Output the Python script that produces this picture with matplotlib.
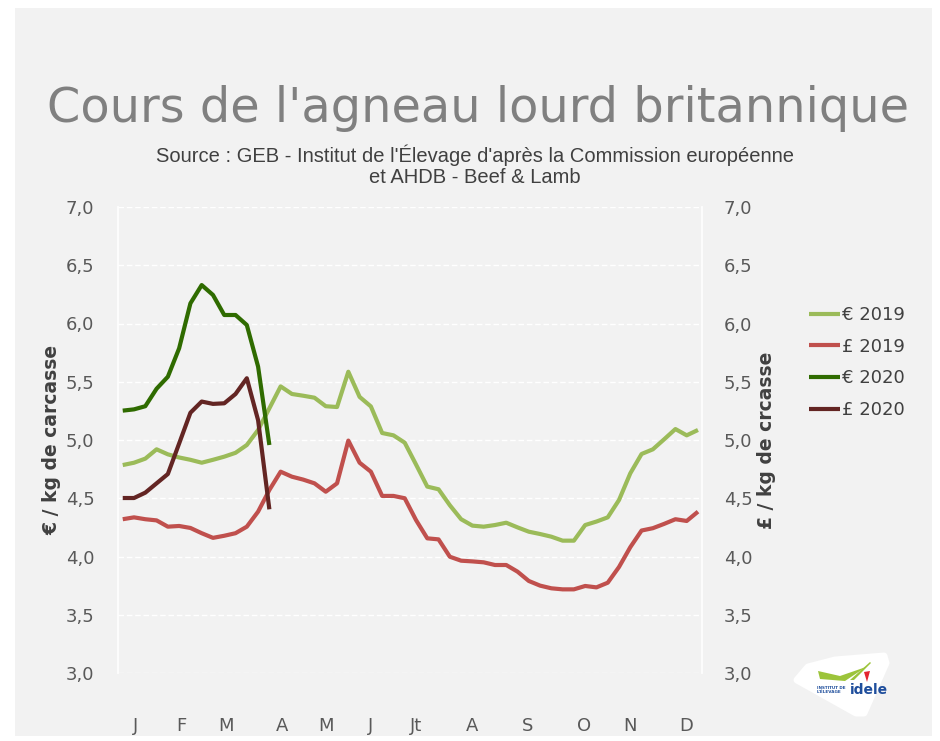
import matplotlib
matplotlib.use("Agg")
import matplotlib.pyplot as plt
from matplotlib.patches import Rectangle, Polygon
import numpy as np

# ---- data ----
eur_2019 = [4.785, 4.805, 4.84, 4.92, 4.877, 4.85, 4.83, 4.805, 4.83, 4.857,
            4.89, 4.957, 5.086, 5.272, 5.46, 5.395, 5.38, 5.363, 5.29, 5.283,
            5.586, 5.37, 5.288, 5.06, 5.04, 4.977, 4.79, 4.60, 4.577, 4.44,
            4.32, 4.265, 4.256, 4.27, 4.29, 4.25, 4.213, 4.193, 4.17, 4.136,
            4.136, 4.27, 4.30, 4.336, 4.485, 4.714, 4.88, 4.92, 5.006, 5.094,
            5.04, 5.086]
gbp_2019 = [4.32, 4.336, 4.32, 4.31, 4.256, 4.262, 4.245, 4.20, 4.16, 4.178,
            4.20, 4.256, 4.385, 4.571, 4.728, 4.685, 4.66, 4.628, 4.556, 4.628,
            4.995, 4.805, 4.728, 4.52, 4.52, 4.50, 4.313, 4.156, 4.147, 3.998,
            3.964, 3.958, 3.95, 3.927, 3.927, 3.87, 3.79, 3.75, 3.727, 3.718,
            3.718, 3.747, 3.735, 3.775, 3.91, 4.08, 4.223, 4.243, 4.28, 4.32,
            4.305, 4.385]
eur_2020 = [5.252, 5.263, 5.29, 5.44, 5.543, 5.787, 6.173, 6.33, 6.245, 6.073,
            6.073, 5.987, 5.63, 4.957]
gbp_2020 = [4.502, 4.502, 4.548, 4.628, 4.708, 4.97, 5.234, 5.33, 5.31, 5.315,
            5.395, 5.53, 5.17, 4.405]

month_labels = ["J", "F", "M", "A", "M", "J", "Jt", "A", "S", "O", "N", "D"]
month_pos = [1.14, 5.17, 9.12, 14.12, 18.04, 22.0, 26.03, 31.0, 35.92, 40.93, 44.97, 49.97]
yticks = [3.0, 3.5, 4.0, 4.5, 5.0, 5.5, 6.0, 6.5, 7.0]

series = [("€ 2019", eur_2019, "#9bbb59"),
          ("£ 2019", gbp_2019, "#c0504d"),
          ("€ 2020", eur_2020, "#2f6b00"),
          ("£ 2020", gbp_2020, "#632523")]

W, H = 940, 741


def fx(x):
    return x / W


def fy(y):
    return 1 - y / H


fig = plt.figure(figsize=(W / 100, H / 100), dpi=100)
fig.patch.set_facecolor("white")
# grey panel
fig.add_artist(Rectangle((fx(15), fy(736)), (932 - 15) / W, (736 - 8) / H,
                         transform=fig.transFigure, facecolor="#f2f2f2",
                         edgecolor="none", zorder=0))

ax = fig.add_axes([fx(118), fy(673), (701.7 - 118) / W, (673 - 207) / H])
ax.set_facecolor("none")
ax.set_xlim(-0.42, 51.33)
ax.set_ylim(3.0, 7.0)

for lab, vals, col in series:
    ax.plot(np.arange(len(vals)), vals, color=col, lw=3.0,
            solid_capstyle="butt", solid_joinstyle="round", label=lab, zorder=3)

ticklabels = [f"{v:.1f}".replace(".", ",") for v in yticks]
ax.set_yticks(yticks)
ax.set_yticklabels(ticklabels)
ax.yaxis.grid(True, color="white", lw=1.0, ls=(0, (4, 2)))
ax.set_axisbelow(True)
ax.tick_params(axis="y", length=0, pad=17, labelsize=13, labelcolor="#595959")
ax.set_xticks(month_pos)
ax.set_xticklabels(month_labels)
ax.tick_params(axis="x", length=0, pad=32, labelsize=13, labelcolor="#595959")
for s in ["top", "bottom"]:
    ax.spines[s].set_visible(False)
for s in ["left", "right"]:
    ax.spines[s].set_color("white")
    ax.spines[s].set_linewidth(1.2)

ax2 = ax.twinx()
ax2.set_ylim(3.0, 7.0)
ax2.set_yticks(yticks)
ax2.set_yticklabels(ticklabels)
ax2.tick_params(axis="y", length=0, pad=16, labelsize=13, labelcolor="#595959")
for s in ax2.spines.values():
    s.set_visible(False)

ax.set_ylabel("€ / kg de carcasse", fontsize=13.5, fontweight="bold",
              color="#404040", labelpad=3)
ax2.set_ylabel("£ / kg de crcasse", fontsize=13.5, fontweight="bold",
               color="#404040", rotation=90, labelpad=3)

fig.text(fx(478), fy(108), "Cours de l'agneau lourd britannique",
         ha="center", va="center", fontsize=34.5, color="#808080",
         family="DejaVu Sans")
fig.text(fx(475), fy(166),
         "Source : GEB - Institut de l'Élevage d'après la Commission européenne\net AHDB - Beef & Lamb",
         ha="center", va="center", fontsize=14.5, color="#404040",
         family="Liberation Sans", linespacing=1.15)

leg = fig.legend(loc="upper left", bbox_to_anchor=(fx(793), fy(290)),
                 frameon=False, fontsize=13, handlelength=1.7,
                 handletextpad=0.1, labelspacing=0.75)
for t in leg.get_texts():
    t.set_color("#404040")

# logo
logo_pts = [(fx(797), fy(680)), (fx(808), fy(667)), (fx(835), fy(660)),
            (fx(884), fy(656)), (fx(886), fy(663)), (fx(864), fy(713)),
            (fx(856), fy(713))]
fig.add_artist(Polygon(logo_pts, closed=True, transform=fig.transFigure,
                       facecolor="white", edgecolor="white", lw=5,
                       joinstyle="round", zorder=1))
fig.add_artist(Polygon([(fx(818), fy(671)), (fx(840), fy(676)), (fx(866), fy(667)),
                        (fx(845), fy(681)), (fx(820), fy(679))], closed=True,
                       transform=fig.transFigure, facecolor="#9cc43a",
                       edgecolor="none", zorder=2))
fig.add_artist(Polygon([(fx(850), fy(680)), (fx(870), fy(662)), (fx(871), fy(663)),
                        (fx(854), fy(680))], closed=True,
                       transform=fig.transFigure, facecolor="#9cc43a",
                       edgecolor="none", zorder=2))
fig.add_artist(Polygon([(fx(864), fy(672)), (fx(870), fy(671)), (fx(867), fy(682))],
                       closed=True, transform=fig.transFigure,
                       facecolor="#e3262f", edgecolor="none", zorder=2))
fig.text(fx(817), fy(690), "INSTITUT DE\nL'ÉLEVAGE", color="#1f4e9c",
         fontsize=3.0, fontweight="bold", linespacing=1.0, va="center",
         zorder=3)
fig.text(fx(850), fy(690), "idele", color="#1f4e9c", fontsize=10,
         fontweight="bold", va="center", zorder=3)

fig.savefig("out.png", dpi=100, facecolor=fig.get_facecolor())
